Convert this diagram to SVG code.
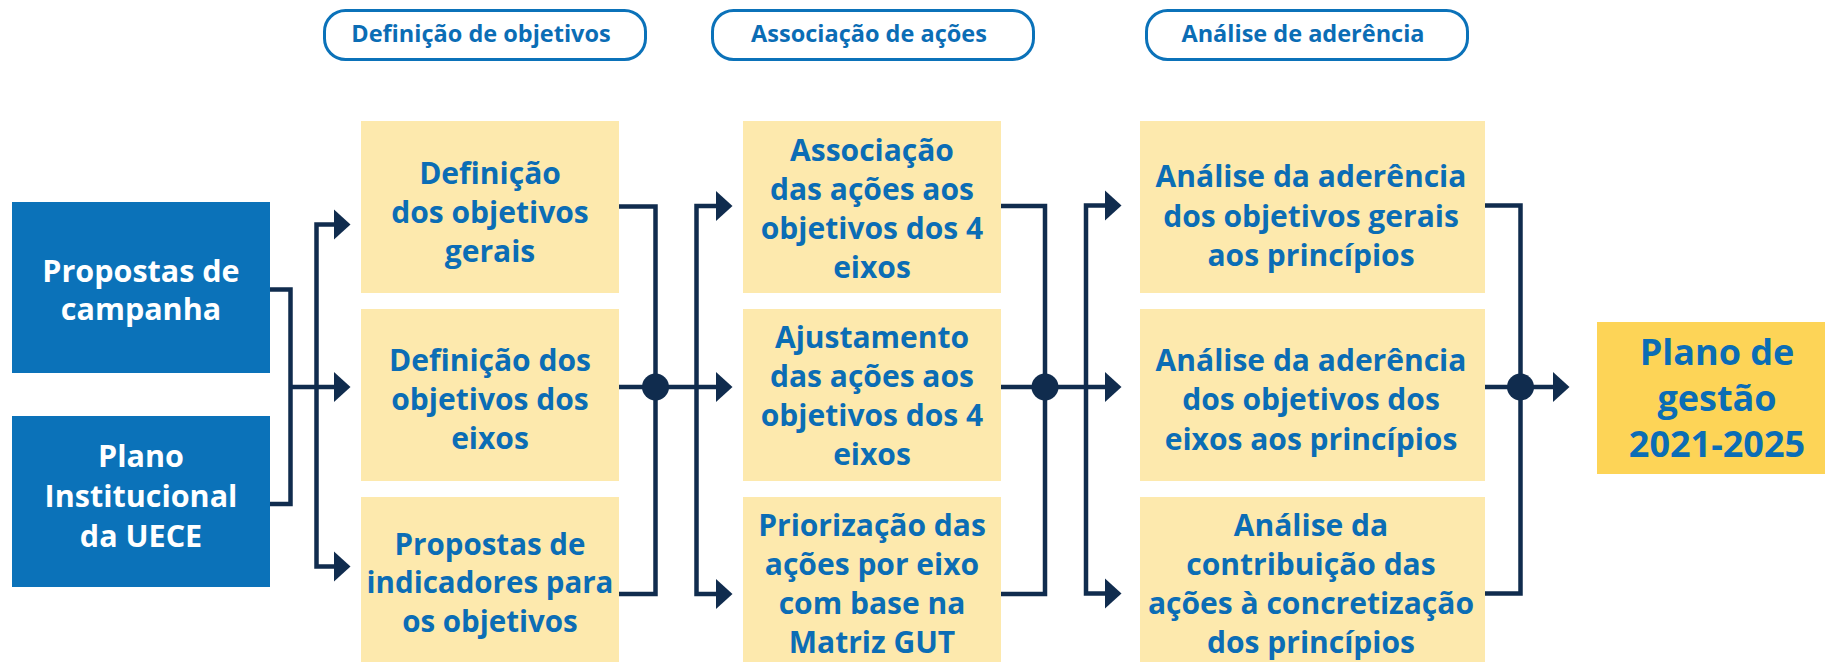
<svg xmlns="http://www.w3.org/2000/svg" xmlns:xlink="http://www.w3.org/1999/xlink" width="1825" height="662" viewBox="0 0 1825 662">
<defs>
<style>
.pill{fill:#fff;stroke:#0B72B9;stroke-width:3}
.pt{font-family:"Open Sans","Liberation Sans",sans-serif;font-weight:700;font-size:23.5px;fill:#0B6DB5;text-anchor:middle}
.blue{fill:#0B72B9}
.yel{fill:#FDE9AD}
.gold{fill:#FDD457}
.t{font-family:"Open Sans","Liberation Sans",sans-serif;font-weight:700;font-size:30px;fill:#0B6DB5;text-anchor:middle}
.n{font-size:29.5px}
.w{fill:#fff;font-size:30.5px}
.big{font-size:36px}
.ln{fill:none;stroke:#102C4E;stroke-width:4.5;stroke-linejoin:miter;stroke-linecap:butt}
.dot,.ah{fill:#102C4E}
</style>
<path id="ah" class="ah" d="M0,-15 L16.5,0 L0,15 Z"/>
</defs>
<rect width="1825" height="662" fill="#fff"/>

<g id="header-definicao">
<rect class="pill" x="324.5" y="10.5" width="321" height="49" rx="21"/>
<text class="pt" x="481" y="42">Definição de objetivos</text>
</g>
<g id="header-associacao">
<rect class="pill" x="712.5" y="10.5" width="321" height="49" rx="21"/>
<text class="pt" x="869" y="42">Associação de ações</text>
</g>
<g id="header-analise">
<rect class="pill" x="1146.5" y="10.5" width="321" height="49" rx="21"/>
<text class="pt" x="1303" y="42">Análise de aderência</text>
</g>

<g id="connectors">
<path class="ln" d="M270,289.5 H290.5 V504 H270 M290.5,387 H334"/>
<path class="ln" d="M334,224.5 H316.5 V566.5 H334"/>
<use xlink:href="#ah" x="334" y="224.5"/>
<use xlink:href="#ah" x="334" y="387"/>
<use xlink:href="#ah" x="334" y="566.5"/>

<path class="ln" d="M619,206.5 H655.5 V594 H619 M619,387 H716"/>
<circle class="dot" cx="655.5" cy="387" r="13.5"/>
<path class="ln" d="M716,206 H696.5 V594 H716"/>
<use xlink:href="#ah" x="716" y="206"/>
<use xlink:href="#ah" x="716" y="387"/>
<use xlink:href="#ah" x="716" y="594"/>

<path class="ln" d="M1001,206 H1045 V594 H1001 M1001,387 H1105"/>
<circle class="dot" cx="1045" cy="387" r="13.5"/>
<path class="ln" d="M1105,205.5 H1086 V593.5 H1105"/>
<use xlink:href="#ah" x="1105" y="205.5"/>
<use xlink:href="#ah" x="1105" y="387"/>
<use xlink:href="#ah" x="1105" y="593.5"/>

<path class="ln" d="M1485,205.5 H1520.5 V593.5 H1485 M1485,387 H1553"/>
<circle class="dot" cx="1520.5" cy="387" r="13.5"/>
<use xlink:href="#ah" x="1553" y="387"/>
</g>

<g id="propostas-campanha">
<rect class="blue" x="12" y="202" width="258" height="171"/>
<text class="t w" x="141" y="282">Propostas de</text>
<text class="t w" x="141" y="320">campanha</text>
</g>
<g id="plano-institucional">
<rect class="blue" x="12" y="416" width="258" height="171"/>
<text class="t w" x="141" y="467">Plano</text>
<text class="t w" x="141" y="507">Institucional</text>
<text class="t w" x="141" y="547">da UECE</text>
</g>

<g id="def-objetivos-gerais">
<rect class="yel" x="361" y="121" width="258" height="172"/>
<text class="t" x="490" y="184">Definição</text>
<text class="t" x="490" y="223">dos objetivos</text>
<text class="t" x="490" y="262">gerais</text>
</g>
<g id="def-objetivos-eixos">
<rect class="yel" x="361" y="309" width="258" height="172"/>
<text class="t" x="490" y="371">Definição dos</text>
<text class="t" x="490" y="410">objetivos dos</text>
<text class="t" x="490" y="449">eixos</text>
</g>
<g id="propostas-indicadores">
<rect class="yel" x="361" y="497" width="258" height="170"/>
<text class="t n" x="490" y="555">Propostas de</text>
<text class="t n" x="490" y="593">indicadores para</text>
<text class="t n" x="490" y="632">os objetivos</text>
</g>

<g id="associacao-acoes">
<rect class="yel" x="743" y="121" width="258" height="172"/>
<text class="t" x="872" y="161">Associação</text>
<text class="t" x="872" y="200">das ações aos</text>
<text class="t" x="872" y="239">objetivos dos 4</text>
<text class="t" x="872" y="278">eixos</text>
</g>
<g id="ajustamento-acoes">
<rect class="yel" x="743" y="309" width="258" height="172"/>
<text class="t" x="872" y="348">Ajustamento</text>
<text class="t" x="872" y="387">das ações aos</text>
<text class="t" x="872" y="426">objetivos dos 4</text>
<text class="t" x="872" y="465">eixos</text>
</g>
<g id="priorizacao-acoes">
<rect class="yel" x="743" y="497" width="258" height="170"/>
<text class="t" x="872" y="536">Priorização das</text>
<text class="t" x="872" y="575">ações por eixo</text>
<text class="t" x="872" y="614">com base na</text>
<text class="t" x="872" y="653">Matriz GUT</text>
</g>

<g id="analise-gerais">
<rect class="yel" x="1140" y="121" width="345" height="172"/>
<text class="t" x="1311" y="187">Análise da aderência</text>
<text class="t" x="1311" y="227">dos objetivos gerais</text>
<text class="t" x="1311" y="266">aos princípios</text>
</g>
<g id="analise-eixos">
<rect class="yel" x="1140" y="309" width="345" height="172"/>
<text class="t" x="1311" y="371">Análise da aderência</text>
<text class="t" x="1311" y="410">dos objetivos dos</text>
<text class="t" x="1311" y="450">eixos aos princípios</text>
</g>
<g id="analise-contribuicao">
<rect class="yel" x="1140" y="497" width="345" height="170"/>
<text class="t" x="1311" y="536">Análise da</text>
<text class="t" x="1311" y="575">contribuição das</text>
<text class="t" x="1311" y="614">ações à concretização</text>
<text class="t" x="1311" y="653">dos princípios</text>
</g>

<g id="plano-gestao">
<rect class="gold" x="1597" y="322" width="230" height="152"/>
<text class="t big" x="1717" y="365">Plano de</text>
<text class="t big" x="1717" y="411">gestão</text>
<text class="t big" x="1717" y="457">2021-2025</text>
</g>
</svg>
